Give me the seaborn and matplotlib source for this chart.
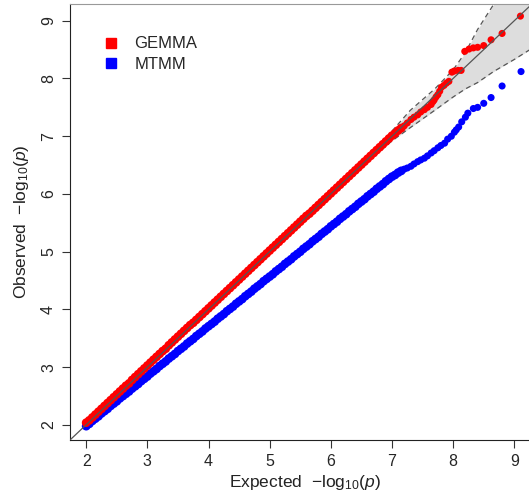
import numpy as np
import pandas as pd
import matplotlib
matplotlib.use("Agg")
import matplotlib.pyplot as plt
from matplotlib.lines import Line2D
import seaborn as sns

sns.set_style("ticks")
plt.rcParams['font.family'] = ['Liberation Sans', 'DejaVu Sans']
plt.rcParams['mathtext.fontset'] = 'custom'
plt.rcParams['mathtext.rm'] = 'Liberation Sans'
plt.rcParams['mathtext.it'] = 'Liberation Sans:italic'

# ---- data ----
expected_dense = [
    2.00, 2.05, 2.10, 2.15, 2.20, 2.25, 2.30, 2.35, 2.40, 2.45, 2.50, 2.55, 2.60, 2.65, 2.70, 2.75, 2.80, 2.85, 2.90, 2.95,
    3.00, 3.05, 3.10, 3.15, 3.20, 3.25, 3.30, 3.35, 3.40, 3.45, 3.50, 3.55, 3.60, 3.65, 3.70, 3.75, 3.80, 3.85, 3.90, 3.95,
    4.00, 4.05, 4.10, 4.15, 4.20, 4.25, 4.30, 4.35, 4.40, 4.45, 4.50, 4.55, 4.60, 4.65, 4.70, 4.75, 4.80, 4.85, 4.90, 4.95,
    5.00, 5.05, 5.10, 5.15, 5.20, 5.25, 5.30, 5.35, 5.40, 5.45, 5.50, 5.55, 5.60, 5.65, 5.70, 5.75, 5.80, 5.85, 5.90, 5.95,
    6.00, 6.05, 6.10, 6.15, 6.20, 6.25, 6.30, 6.35, 6.40, 6.45, 6.50, 6.55, 6.60, 6.65, 6.70, 6.75, 6.80, 6.85, 6.90, 6.95,
    7.00, 7.05, 7.10, 7.15,
]
gemma_dense = [
    2.04, 2.08, 2.13, 2.18, 2.23, 2.28, 2.33, 2.38, 2.43, 2.48, 2.53, 2.58, 2.63, 2.68, 2.72, 2.78, 2.83, 2.88, 2.93, 2.98,
    3.03, 3.08, 3.13, 3.18, 3.23, 3.28, 3.32, 3.38, 3.43, 3.48, 3.53, 3.58, 3.63, 3.68, 3.73, 3.77, 3.82, 3.87, 3.92, 3.97,
    4.02, 4.07, 4.12, 4.17, 4.22, 4.27, 4.32, 4.37, 4.42, 4.47, 4.52, 4.57, 4.62, 4.67, 4.72, 4.77, 4.82, 4.87, 4.92, 4.97,
    5.02, 5.07, 5.12, 5.17, 5.22, 5.27, 5.32, 5.37, 5.42, 5.47, 5.52, 5.57, 5.62, 5.66, 5.71, 5.76, 5.81, 5.86, 5.91, 5.96,
    6.01, 6.06, 6.11, 6.16, 6.21, 6.26, 6.31, 6.36, 6.41, 6.46, 6.51, 6.56, 6.61, 6.66, 6.71, 6.76, 6.81, 6.86, 6.91, 6.96,
    7.01, 7.05, 7.10, 7.14,
]
mtmm_dense = [
    1.98, 2.02, 2.07, 2.11, 2.15, 2.20, 2.24, 2.28, 2.33, 2.37, 2.41, 2.46, 2.50, 2.54, 2.58, 2.63, 2.67, 2.71, 2.76, 2.80,
    2.84, 2.89, 2.93, 2.97, 3.02, 3.06, 3.10, 3.15, 3.19, 3.23, 3.28, 3.32, 3.36, 3.41, 3.45, 3.49, 3.54, 3.58, 3.62, 3.67,
    3.71, 3.75, 3.79, 3.84, 3.88, 3.92, 3.97, 4.01, 4.05, 4.10, 4.14, 4.18, 4.23, 4.27, 4.31, 4.36, 4.40, 4.44, 4.49, 4.53,
    4.57, 4.61, 4.66, 4.70, 4.74, 4.79, 4.83, 4.87, 4.92, 4.96, 5.00, 5.05, 5.09, 5.13, 5.18, 5.22, 5.26, 5.31, 5.35, 5.39,
    5.44, 5.48, 5.52, 5.57, 5.61, 5.65, 5.70, 5.74, 5.78, 5.83, 5.87, 5.91, 5.96, 6.00, 6.04, 6.09, 6.13, 6.17, 6.22, 6.26,
    6.30, 6.33, 6.37, 6.40,
]

# sparse top tail of each series
gemma_tail_exp = [7.20, 7.25, 7.31, 7.36, 7.42, 7.47, 7.53, 7.58, 7.64, 7.67, 7.69, 7.72, 7.75, 7.78, 7.81,
                  7.85, 7.89, 7.93, 7.98, 8.02, 8.08, 8.13, 8.19, 8.26, 8.33, 8.40, 8.50, 8.62, 8.80, 9.10]
gemma_tail_obs = [7.18, 7.23, 7.29, 7.33, 7.37, 7.42, 7.46, 7.50, 7.55, 7.60, 7.63, 7.68, 7.72, 7.78, 7.85,
                  7.88, 7.92, 7.95, 8.11, 8.13, 8.14, 8.14, 8.47, 8.51, 8.53, 8.54, 8.57, 8.67, 8.78, 9.08]
mtmm_tail_exp = [7.20, 7.25, 7.31, 7.36, 7.42, 7.47, 7.53, 7.58, 7.64, 7.69, 7.75, 7.80, 7.86, 7.91,
                 7.97, 8.02, 8.05, 8.09, 8.14, 8.20, 8.24, 8.33, 8.40, 8.50, 8.62, 8.80, 9.11]
mtmm_tail_obs = [6.43, 6.45, 6.48, 6.52, 6.56, 6.59, 6.62, 6.66, 6.71, 6.75, 6.80, 6.84, 6.88, 6.95,
                 7.00, 7.07, 7.11, 7.16, 7.25, 7.33, 7.40, 7.48, 7.50, 7.57, 7.67, 7.87, 8.12]

# 95% band around the diagonal
band_x = [6.50, 7.00, 7.30, 7.70, 8.00, 8.20, 8.40, 8.66, 9.00, 9.45]
band_lo = [6.46, 6.92, 7.15, 7.45, 7.68, 7.82, 7.93, 8.12, 8.33, 8.63]
band_hi = [6.54, 7.09, 7.45, 7.82, 8.15, 8.45, 8.85, 9.28, 9.90, 10.60]

methods = ["GEMMA", "MTMM"]
colors = {"GEMMA": "#FF0000", "MTMM": "#0000FF"}

n_dense = len(expected_dense)
df = pd.concat([
    pd.DataFrame({"expected": expected_dense + gemma_tail_exp,
                  "observed": gemma_dense + gemma_tail_obs, "method": "GEMMA",
                  "part": ["dense"] * n_dense + ["tail"] * len(gemma_tail_exp)}),
    pd.DataFrame({"expected": expected_dense + mtmm_tail_exp,
                  "observed": mtmm_dense + mtmm_tail_obs, "method": "MTMM",
                  "part": ["dense"] * n_dense + ["tail"] * len(mtmm_tail_exp)}),
], ignore_index=True)

# ---- plot ----
fig = plt.figure(figsize=(5.29, 4.99), dpi=100)
ax = fig.add_axes([70 / 529, 59 / 499, 470 / 529, 436 / 499])

x0, x1 = 1.735, 9.42
y0, y1 = 1.74, 9.29

ax.fill_between(band_x, band_lo, band_hi, color="#DDDDDD", lw=0, zorder=1)
ax.plot(band_x, band_lo, ls=(0, (4, 3)), color="#555555", lw=0.9, zorder=2)
ax.plot(band_x, band_hi, ls=(0, (4, 3)), color="#555555", lw=0.9, zorder=2)

# draw MTMM first, GEMMA on top
for m in ["MTMM", "GEMMA"]:
    sns.scatterplot(data=df[df.method == m], x="expected", y="observed", color=colors[m],
                    size="part", sizes={"dense": 40, "tail": 26}, linewidth=0, ax=ax,
                    zorder=3, legend=False)

ax.plot([x0, 10], [y0, 10], color="#555555", lw=0.9, zorder=4)

ax.set_xlim(x0, x1)
ax.set_ylim(y0, y1)
ax.set_xticks(range(2, 10))
ax.set_yticks(range(2, 10))
ax.tick_params(axis="both", length=6, width=0.8, color="#333333", labelsize=11.5, pad=4)
for lab in ax.get_yticklabels():
    lab.set_rotation(90)
    lab.set_va("center")

ax.spines["top"].set_color("#999999")
ax.spines["right"].set_visible(False)
ax.spines["left"].set_color("#222222")
ax.spines["bottom"].set_color("#222222")

ax.set_xlabel(r"Expected  $-\mathrm{log}_{10}(\mathit{p})$", fontsize=12.5, color="#222222", labelpad=3)
ax.set_ylabel(r"Observed  $-\mathrm{log}_{10}(\mathit{p})$", fontsize=12.5, color="#222222", labelpad=7)

handles = [Line2D([], [], marker="s", ls="", color=colors[m], markersize=7) for m in methods]
ax.legend(handles, methods, loc="upper left", bbox_to_anchor=(0.02, 0.96), frameon=False,
          fontsize=12, handletextpad=0.4, labelspacing=0.35)

fig.savefig("out.png", dpi=100)
